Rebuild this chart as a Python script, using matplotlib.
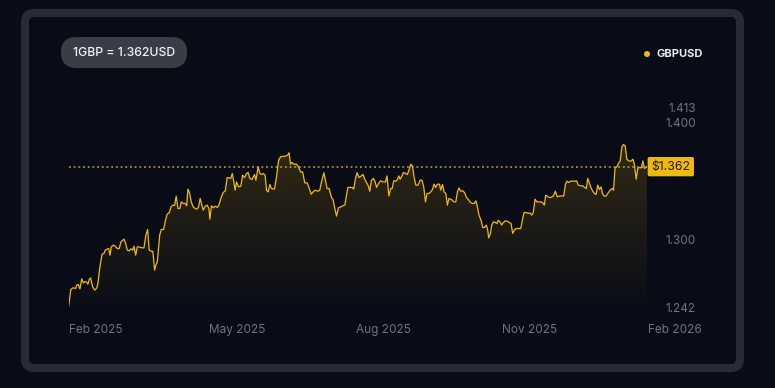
import numpy as np
import matplotlib
matplotlib.use('Agg')
import matplotlib.pyplot as plt
import matplotlib.transforms as mtransforms
from matplotlib.patches import FancyBboxPatch, Circle

plt.rcParams['font.family'] = ['Inter', 'DejaVu Sans']

# days since 2025-01-15 and GBPUSD rate
days = [0.0, 1.3, 2.7, 4.4, 5.0, 6.0, 7.1, 8.2, 9.2, 10.3, 11.3, 12.1, 13.0, 13.8, 15.1, 16.4, 17.6, 18.4, 19.5,
        21.0, 22.2, 23.0, 24.3, 25.2, 26.0, 26.8, 28.1, 29.3, 30.6, 31.8, 32.9, 34.8, 35.9, 36.9, 38.1, 39.2,
        40.3, 41.1, 42.2, 43.2, 44.7, 46.1, 47.4, 48.6, 49.7, 50.7, 52.0, 53.0, 54.1, 54.9, 55.8, 57.3, 58.3,
        59.8, 61.0, 62.0, 63.3, 64.4, 65.6, 66.7, 67.7, 68.8, 70.0, 70.9, 72.1, 73.4, 74.3, 75.1, 76.1, 77.2,
        78.4, 79.9, 80.9, 81.8, 82.8, 83.9, 84.7, 86.0, 87.2, 88.3, 88.9, 89.9, 91.0, 92.3, 93.5, 94.6, 95.8,
        97.3, 98.6, 99.8, 101.1, 102.1, 103.0, 104.0, 104.8, 105.7, 107.0, 108.4, 109.5, 110.8, 112.0, 113.0,
        114.1, 115.4, 117.0, 117.9, 119.3, 120.4, 121.5, 122.5, 123.7, 124.6, 125.6, 126.7, 127.7, 129.6,
        130.9, 132.2, 133.4, 135.1, 136.6, 137.8, 138.8, 139.7, 140.7, 141.8, 143.5, 144.7, 146.0, 147.3,
        148.7, 150.2, 151.2, 152.7, 153.9, 155.2, 156.9, 158.1, 159.2, 160.7, 161.7, 162.7, 164.0, 165.5,
        166.5, 167.6, 168.7, 169.9, 171.4, 172.4, 173.9, 175.0, 175.8, 177.0, 178.5, 179.5, 180.6, 181.6,
        182.8, 184.0, 185.4, 186.5, 187.7, 188.6, 189.6, 190.7, 192.0, 193.0, 193.9, 194.9, 196.3, 197.8,
        199.5, 200.5, 201.6, 202.8, 203.7, 204.7, 206.0, 207.0, 207.9, 208.7, 209.6, 210.8, 212.1, 213.3,
        214.3, 215.4, 216.5, 217.5, 218.6, 220.0, 221.3, 222.5, 223.6, 224.7, 225.7, 226.9, 228.0, 229.1,
        230.1, 231.1, 232.2, 233.5, 234.3, 235.4, 236.4, 237.5, 238.5, 239.5, 241.0, 242.5, 243.8, 244.8,
        245.8, 246.9, 248.3, 249.4, 250.5, 251.7, 253.0, 254.2, 255.3, 256.5, 257.4, 258.4, 259.7, 260.7,
        261.8, 263.1, 263.9, 264.5, 265.6, 266.4, 267.5, 268.7, 269.7, 270.6, 271.6, 272.7, 273.7, 275.0,
        276.2, 277.5, 278.6, 279.6, 280.6, 281.7, 283.2, 284.7, 285.7, 286.8, 288.0, 289.5, 290.5, 291.6,
        292.6, 293.7, 294.8, 296.0, 297.3, 298.5, 299.6, 300.4, 301.4, 302.7, 304.2, 305.2, 306.5, 307.7,
        309.0, 310.5, 311.8, 312.8, 313.8, 314.9, 316.2, 317.4, 318.7, 319.9, 320.9, 322.5, 323.7, 325.0,
        326.0, 326.9, 327.9, 329.0, 330.0, 331.1, 332.1, 333.2, 334.2, 335.3, 336.1, 337.2, 338.5, 339.5,
        341.0, 342.2, 343.1, 344.1, 345.2, 346.2, 347.3, 348.4, 349.4, 350.5, 351.5, 352.8, 354.2, 355.3,
        356.3, 357.4, 358.4, 359.4, 360.7, 361.6, 362.6, 363.6, 364.4]
rates = [1.2428, 1.2570, 1.2584, 1.2579, 1.2607, 1.2613, 1.2575, 1.2661, 1.2626, 1.2638, 1.2632, 1.2615, 1.2658,
         1.2669, 1.2592, 1.2564, 1.2581, 1.2621, 1.2749, 1.2872, 1.2878, 1.2906, 1.2915, 1.2920, 1.2863, 1.2934,
         1.2949, 1.2940, 1.2920, 1.2920, 1.2977, 1.3000, 1.2963, 1.2906, 1.2900, 1.2917, 1.2906, 1.2940, 1.2863,
         1.2934, 1.2932, 1.2926, 1.2926, 1.3034, 1.3083, 1.2906, 1.2897, 1.2895, 1.2735, 1.2778, 1.2806, 1.3034,
         1.3083, 1.3083, 1.3162, 1.3214, 1.3225, 1.3276, 1.3291, 1.3288, 1.3368, 1.3262, 1.3262, 1.3319, 1.3305,
         1.3305, 1.3285, 1.3428, 1.3396, 1.3319, 1.3276, 1.3259, 1.3259, 1.3276, 1.3348, 1.3291, 1.3248, 1.3282,
         1.3291, 1.3262, 1.3171, 1.3286, 1.3268, 1.3282, 1.3271, 1.3291, 1.3348, 1.3399, 1.3413, 1.3527, 1.3524,
         1.3519, 1.3562, 1.3490, 1.3419, 1.3490, 1.3447, 1.3453, 1.3547, 1.3527, 1.3562, 1.3570, 1.3519, 1.3510,
         1.3553, 1.3504, 1.3618, 1.3562, 1.3553, 1.3562, 1.3547, 1.3419, 1.3404, 1.3468, 1.3433, 1.3428, 1.3533,
         1.3675, 1.3703, 1.3709, 1.3709, 1.3718, 1.3738, 1.3641, 1.3656, 1.3641, 1.3641, 1.3618, 1.3575, 1.3575,
         1.3481, 1.3481, 1.3447, 1.3385, 1.3404, 1.3419, 1.3410, 1.3419, 1.3490, 1.3567, 1.3504, 1.3433, 1.3433,
         1.3356, 1.3339, 1.3262, 1.3197, 1.3268, 1.3276, 1.3285, 1.3291, 1.3376, 1.3442, 1.3442, 1.3442, 1.3428,
         1.3519, 1.3568, 1.3527, 1.3538, 1.3553, 1.3510, 1.3481, 1.3459, 1.3410, 1.3504, 1.3519, 1.3490, 1.3442,
         1.3470, 1.3499, 1.3490, 1.3490, 1.3541, 1.3370, 1.3433, 1.3433, 1.3499, 1.3496, 1.3510, 1.3541, 1.3513,
         1.3533, 1.3570, 1.3562, 1.3553, 1.3590, 1.3641, 1.3624, 1.3533, 1.3462, 1.3462, 1.3504, 1.3504, 1.3447,
         1.3319, 1.3391, 1.3391, 1.3404, 1.3425, 1.3470, 1.3442, 1.3470, 1.3470, 1.3419, 1.3468, 1.3404, 1.3391,
         1.3291, 1.3348, 1.3339, 1.3319, 1.3319, 1.3404, 1.3438, 1.3410, 1.3413, 1.3396, 1.3356, 1.3339, 1.3314,
         1.3305, 1.3305, 1.3327, 1.3276, 1.3205, 1.3162, 1.3100, 1.3100, 1.3120, 1.3077, 1.3011, 1.3049, 1.3120,
         1.3148, 1.3143, 1.3134, 1.3162, 1.3148, 1.3120, 1.3143, 1.3156, 1.3154, 1.3143, 1.3134, 1.3049, 1.3077,
         1.3091, 1.3091, 1.3091, 1.3162, 1.3228, 1.3228, 1.3220, 1.3225, 1.3205, 1.3228, 1.3342, 1.3319, 1.3319,
         1.3319, 1.3310, 1.3291, 1.3376, 1.3368, 1.3356, 1.3359, 1.3370, 1.3410, 1.3362, 1.3368, 1.3370, 1.3370,
         1.3468, 1.3496, 1.3485, 1.3496, 1.3496, 1.3496, 1.3499, 1.3462, 1.3456, 1.3456, 1.3442, 1.3433, 1.3519,
         1.3481, 1.3438, 1.3410, 1.3391, 1.3382, 1.3462, 1.3425, 1.3447, 1.3391, 1.3368, 1.3370, 1.3391, 1.3419,
         1.3433, 1.3419, 1.3609, 1.3618, 1.3647, 1.3667, 1.3789, 1.3809, 1.3798, 1.3684, 1.3669, 1.3667, 1.3684,
         1.3638, 1.3513, 1.3604, 1.3613, 1.3609, 1.3669, 1.3604, 1.3618, 1.3620]

start = np.datetime64('2025-01-15')
tick_dates = ['2025-02-01', '2025-05-01', '2025-08-01', '2025-11-01', '2026-02-01']
tick_labels = ['Feb 2025', 'May 2025', 'Aug 2025', 'Nov 2025', 'Feb 2026']
tick_days = [int((np.datetime64(d) - start).astype(int)) for d in tick_dates]

y_ticks = [1.242, 1.300, 1.400, 1.413]
y_labels = ['1.242', '1.300', '1.400', '1.413']
current = 1.362
pair = 'GBPUSD'

gold = '#f0b90b'
grey = '#6f7380'

fig = plt.figure(figsize=(7.75, 3.88), dpi=100, facecolor='#0a0d18')

# card frame
card = FancyBboxPatch((0.25, 0.20), 7.15, 3.55, boxstyle='round,pad=0,rounding_size=0.09',
                      transform=fig.dpi_scale_trans, fc='#090c17', ec='#272a37', lw=5.8, zorder=-2)
fig.patches.append(card)

# price badge
badge = FancyBboxPatch((0.61, 3.20), 1.26, 0.31, boxstyle='round,pad=0,rounding_size=0.155',
                       transform=fig.dpi_scale_trans, fc='#3a3d45', ec='none', zorder=-1)
fig.patches.append(badge)
fig.text(1.24 / 7.75, 3.355 / 3.88, '1GBP = %.3fUSD' % current, color='#f2f3f6', fontsize=8.8,
         fontweight='medium', ha='center', va='center')

# legend
dot = Circle((6.47, 3.34), 0.03, transform=fig.dpi_scale_trans, fc=gold, ec='none', zorder=-1)
fig.patches.append(dot)
fig.text(6.565 / 7.75, 3.34 / 3.88, pair, color='#e8eaf0', fontsize=8, fontweight='bold',
         ha='left', va='center')

ax = fig.add_axes([68.7 / 775, 81 / 388, (647.3 - 68.7) / 775, 200 / 388])
ax.set_facecolor('none')
ax.set_zorder(2)

ax.plot(days, rates, color=gold, lw=0.9, zorder=3)

# gradient fill under the line
poly = ax.fill_between(days, rates, y_ticks[0], color='none', lw=0)
top = max(rates)
grad = np.zeros((256, 1, 4))
grad[:, 0, :3] = matplotlib.colors.to_rgb(gold)
grad[:, 0, 3] = np.linspace(0.01, 0.17, 256)
im = ax.imshow(grad, extent=[days[0], days[-1], y_ticks[0], top], aspect='auto', origin='lower', zorder=2)
im.set_clip_path(poly.get_paths()[0], ax.transData)

ax.set_xlim(days[0], days[-1])
ax.set_ylim(y_ticks[0], y_ticks[-1])

# current price line and tag
ax.axhline(current, color='#b88a18', lw=1.3, linestyle=(0, (1, 1.6)), zorder=1)
trans = mtransforms.blended_transform_factory(ax.transAxes, ax.transData)
ax.text(1.0, current, '$%.3f' % current, transform=mtransforms.offset_copy(trans, fig=fig, x=4, units='dots'),
        ha='left', va='center', color='#1b1b1b', fontsize=8.8, zorder=5, clip_on=False,
        bbox=dict(boxstyle='round,pad=0.3,rounding_size=0.15', fc=gold, ec='none'))

ax.yaxis.tick_right()
ax.set_yticks(y_ticks)
ax.set_yticklabels(y_labels)
ax.tick_params(axis='y', length=0, pad=35, labelcolor=grey, labelsize=8.5)
for lab in ax.get_yticklabels():
    lab.set_ha('right')

ax.set_xticks(tick_days[:-1])
ax.set_xticklabels(tick_labels[:-1])
ax.tick_params(axis='x', length=0, pad=12.5, labelcolor=grey, labelsize=8.5)
xtrans = mtransforms.blended_transform_factory(ax.transData, ax.transAxes)
ax.text(tick_days[-1], 0, tick_labels[-1], transform=mtransforms.offset_copy(xtrans, fig=fig, y=-12.5, units='points'),
        ha='center', va='top', color=grey, fontsize=8.5, clip_on=False)

for s in ax.spines.values():
    s.set_visible(False)

fig.savefig('out.png', dpi=100, facecolor=fig.get_facecolor())
